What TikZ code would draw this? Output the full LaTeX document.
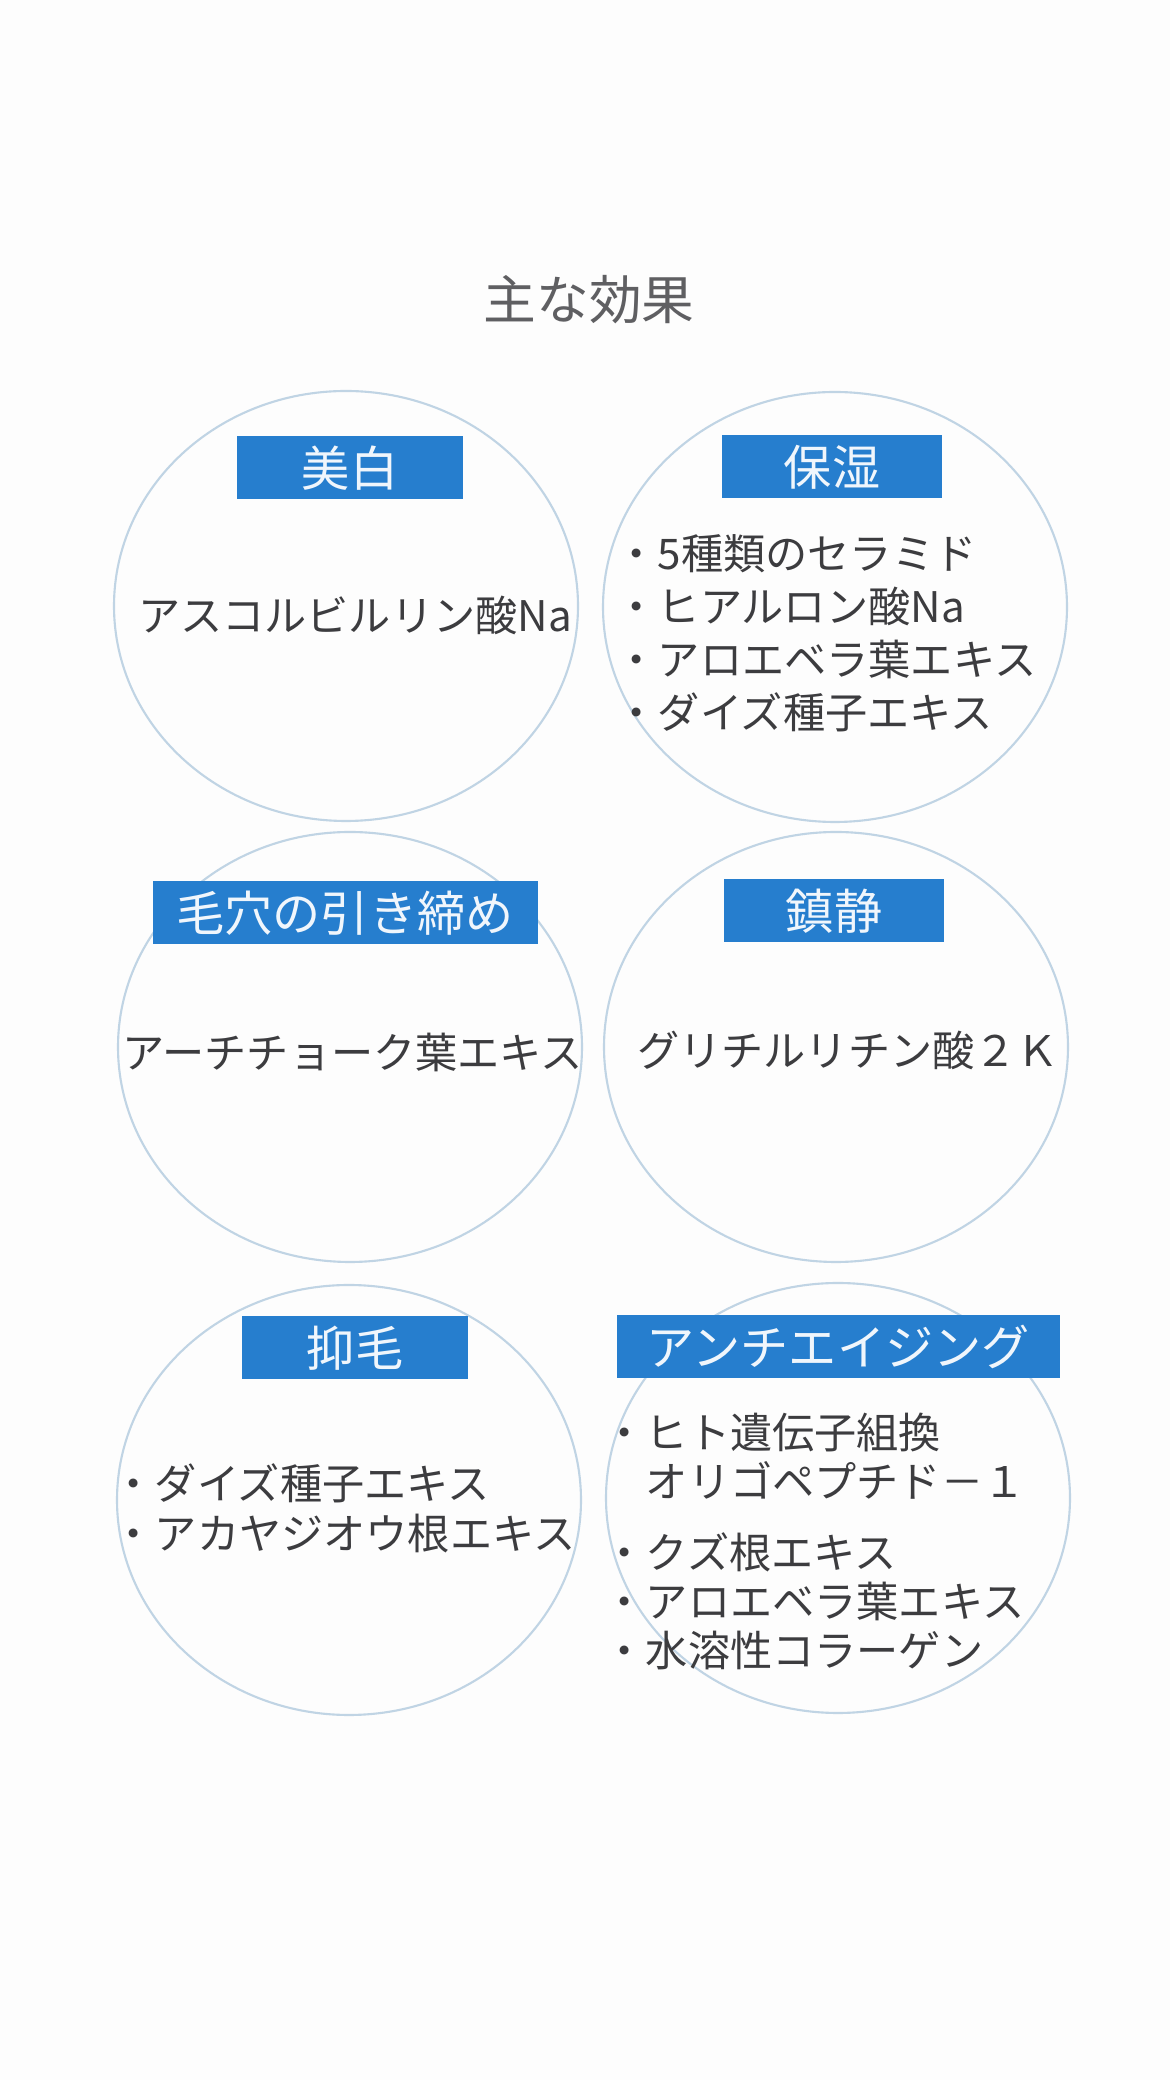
\documentclass[tikz,border=0pt]{standalone}
\usepackage{fontspec}
\setmainfont{Noto Sans CJK JP}
\usepackage{xcolor}
\usepackage{tikz}
\usetikzlibrary{calc,positioning,shapes.geometric}
\definecolor{aoBox}{RGB}{38,126,206}
\definecolor{aoLine}{RGB}{192,212,228}
\definecolor{sumiText}{RGB}{60,60,63}
\definecolor{haiTitle}{RGB}{95,95,98}
\definecolor{kamiBg}{RGB}{253,253,253}

\begin{document}
\begin{tikzpicture}[
    marubox/.style={draw=aoLine, line width=0.6pt, ellipse, inner sep=0pt,
      minimum width=4.64cm, minimum height=4.30cm},
    midashi/.style={fill=aoBox, text=white!93!aoBox, inner sep=0pt,
      minimum height=0.63cm, font=\fontsize{13.7}{16}\selectfont},
    honbun/.style={text=sumiText, inner sep=0pt,
      font=\fontsize{12}{15.1}\selectfont},
    kajou/.style={honbun, align=left, anchor=west}]
  % Page
  \fill[kamiBg] (0,0) rectangle (11.7,20.8);
  \useasboundingbox (0,0) rectangle (11.7,20.8);
  % Title
  \node[text=haiTitle, font=\fontsize{15}{18}\selectfont] (title) at (5.89,17.80) {主な効果};
  % Circles
  \node[marubox] (bihaku) at (3.46,14.74) {};
  \node[marubox] (hoshitsu) at (8.35,14.73) {};
  \node[marubox] (keana) at (3.50,10.33) {};
  \node[marubox] (chinsei) at (8.36,10.33) {};
  \node[marubox] (yokumou) at (3.49,5.80) {};
  \node[marubox] (antiage) at (8.38,5.82) {};
  % Blue headings
  \node[midashi, minimum width=2.26cm] (bihakuHd) at (3.50,16.12) {美白};
  \node[midashi, minimum width=2.20cm] (hoshitsuHd) at (8.32,16.13) {保湿};
  \node[midashi, minimum width=3.85cm] (keanaHd) at (3.45,11.67) {毛穴の引き締め};
  \node[midashi, minimum width=2.20cm] (chinseiHd) at (8.34,11.69) {鎮静};
  \node[midashi, minimum width=2.26cm] (yokumouHd) at (3.55,7.32) {抑毛};
  \node[midashi, minimum width=4.43cm] (antiageHd) at (8.38,7.33) {アンチエイジング};
  % Ingredients
  \node[honbun] (bihakuTx) at (3.55,14.65) {アスコルビルリン酸Na};
  \node[kajou] (hoshitsuTx) at (6.15,14.47)
    {・5種類のセラミド\\・ヒアルロン酸Na\\・アロエベラ葉エキス\\・ダイズ種子エキス};
  \node[honbun] (keanaTx) at (3.53,10.28) {アーチチョーク葉エキス};
  \node[honbun] (chinseiTx) at (8.48,10.30) {グリチルリチン酸２Ｋ};
  \node[kajou] (yokumouTx) at (1.12,5.72)
    {・ダイズ種子エキス\\[-0.03cm]・アカヤジオウ根エキス};
  \node[kajou] (antiageTx) at (6.03,5.385)
    {・ヒト遺伝子組換\\[-0.04cm]\phantom{・}オリゴペプチド－１\\[0.18cm]%
     ・クズ根エキス\\[-0.04cm]・アロエベラ葉エキス\\[-0.04cm]・水溶性コラーゲン};
\end{tikzpicture}
\end{document}
